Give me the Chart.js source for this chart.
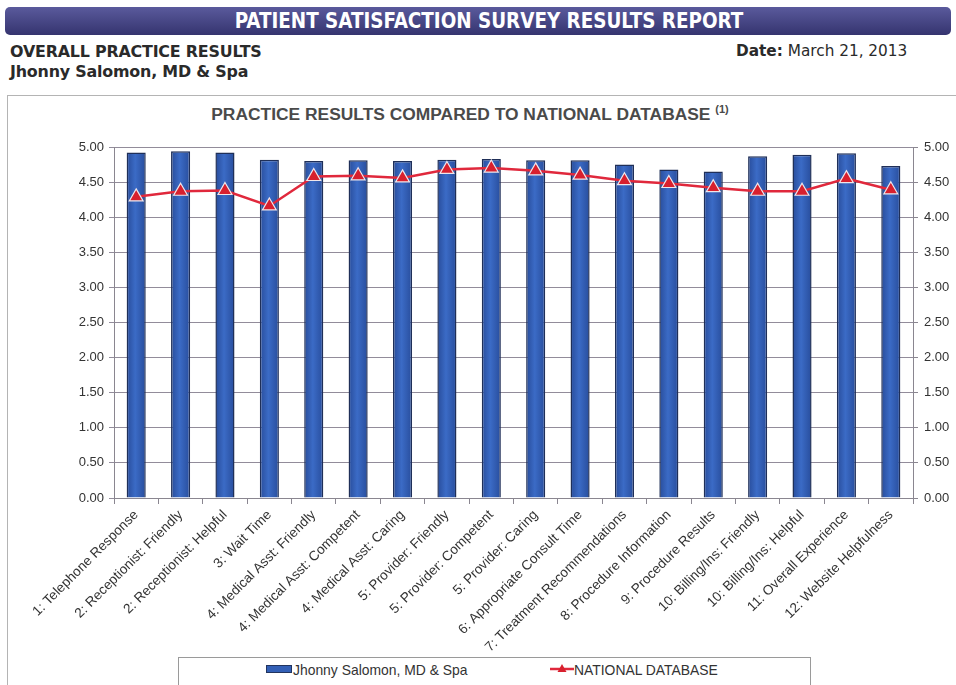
<!DOCTYPE html>
<html>
<head>
<meta charset="utf-8">
<script src="https://cdn.jsdelivr.net/npm/chart.js@4.4.0/dist/chart.umd.min.js"></script>
<style>
  body{margin:0;width:956px;height:685px;position:relative;overflow:hidden;background:#fff;
       font-family:"DejaVu Sans",sans-serif;color:#2a2a2a;}
  .banner{position:absolute;left:5px;top:7px;width:946px;height:28px;border-radius:5px;
          background:linear-gradient(#5a5a9c,#35346f);color:#fff;font-weight:bold;font-size:20.4px;
          line-height:28px;text-align:center;box-sizing:border-box;padding-left:22px;
          font-family:"DejaVu Sans Condensed","DejaVu Sans",sans-serif;}
  .sub{position:absolute;left:10px;font-weight:bold;font-size:15.9px;letter-spacing:-0.2px;}
  .date{position:absolute;left:736px;top:42px;font-size:15.3px;}
  .date b{font-weight:bold;}
  .box{position:absolute;left:7px;top:95px;width:970px;height:620px;border:1px solid #b4b4b4;}
  .title{position:absolute;left:0;top:103px;width:940px;text-align:center;
         font-family:"Liberation Sans",Arial,sans-serif;font-weight:bold;font-size:17.4px;color:#4a4a4a;}
  .title sup{font-size:11px;vertical-align:7px;}
  #wrap{position:absolute;left:8px;top:128px;width:948px;height:524px;}
  .legend{position:absolute;left:178px;top:657px;width:631px;height:30px;border:1px solid #9a9a9a;
          font-family:"Liberation Sans",Arial,sans-serif;font-size:13.9px;color:#333;}
  .legend span{position:absolute;top:4px;}
  .sw-bar{position:absolute;left:87px;top:7px;width:24px;height:6px;background:#3360b6;border:1px solid #22345e;}
  .sw-line{position:absolute;left:371px;top:3px;}
</style>
</head>
<body>
<div class="banner">PATIENT SATISFACTION SURVEY RESULTS REPORT</div>
<div class="sub" style="top:42px">OVERALL PRACTICE RESULTS</div>
<div class="sub" style="top:62px">Jhonny Salomon, MD &amp; Spa</div>
<div class="date"><b>Date:</b> March 21, 2013</div>
<div class="box"></div>
<div class="title">PRACTICE RESULTS COMPARED TO NATIONAL DATABASE <sup>(1)</sup></div>
<div id="wrap"><canvas id="chart" width="948" height="524"></canvas></div>
<div class="legend">
  <div class="sw-bar"></div>
  <span style="left:114px">Jhonny Salomon, MD &amp; Spa</span>
  <svg class="sw-line" width="24" height="14"><line x1="0" y1="8" x2="24" y2="8" stroke="#e0283c" stroke-width="2.5"/><polygon points="12,3 16.5,11 7.5,11" fill="#d8202e"/></svg>
  <span style="left:395px">NATIONAL DATABASE</span>
</div>
<script>
// survey questions along the x axis
const categories = [
  '1: Telephone Response',
  '2: Receptionist: Friendly',
  '2: Receptionist: Helpful',
  '3: Wait Time',
  '4: Medical Asst: Friendly',
  '4: Medical Asst: Competent',
  '4: Medical Asst: Caring',
  '5: Provider: Friendly',
  '5: Provider: Competent',
  '5: Provider: Caring',
  '6: Appropriate Consult Time',
  '7: Treatment Recommendations',
  '8: Procedure Information',
  '9: Procedure Results',
  '10: Billing/Ins: Friendly',
  '10: Billing/Ins: Helpful',
  '11: Overall Experience',
  '12: Website Helpfulness'
];
const practiceScores = [4.92, 4.94, 4.92, 4.82, 4.80, 4.81, 4.80, 4.82, 4.83, 4.81, 4.81, 4.75, 4.68, 4.65, 4.87, 4.89, 4.91, 4.73];
const nationalScores = [4.29, 4.37, 4.38, 4.16, 4.58, 4.59, 4.56, 4.68, 4.70, 4.66, 4.60, 4.52, 4.48, 4.42, 4.37, 4.37, 4.55, 4.39];
const yTickValues = [0, 0.5, 1, 1.5, 2, 2.5, 3, 3.5, 4, 4.5, 5];

const BAR_PCT = 0.43;
const labelFont = { family: '"Liberation Sans", Arial, sans-serif', size: 13 };
const xLabelFont = { family: '"Liberation Sans", Arial, sans-serif', size: 13.6 };

// soft horizontal shading across each bar
function barFill(ctx){
  const chart = ctx.chart, xs = chart.scales.x;
  if (!xs || ctx.dataIndex == null) return '#3360b6';
  const cx = xs.getPixelForValue(ctx.dataIndex);
  const half = xs.width / categories.length * BAR_PCT / 2;
  if (!isFinite(cx) || !isFinite(half) || half <= 0) return '#3360b6';
  const g = chart.ctx.createLinearGradient(cx - half, 0, cx + half, 0);
  g.addColorStop(0, '#284c9a');
  g.addColorStop(0.45, '#3b6bc6');
  g.addColorStop(1, '#284d9c');
  return g;
}

function fixedTicks(scale){
  scale.ticks = yTickValues.map(v => ({ value: v }));
}

new Chart(document.getElementById('chart').getContext('2d'), {
  data: {
    labels: categories,
    datasets: [
      {
        type: 'line',
        label: 'NATIONAL DATABASE',
        data: nationalScores,
        borderColor: '#e0283c',
        borderWidth: 2.5,
        pointStyle: 'triangle',
        pointRadius: 8,
        pointBackgroundColor: '#d8202e',
        pointBorderColor: '#efe6ea',
        pointBorderWidth: 1.2,
        tension: 0,
        order: 0,
        yAxisID: 'y'
      },
      {
        type: 'bar',
        label: 'Jhonny Salomon, MD & Spa',
        data: practiceScores,
        backgroundColor: barFill,
        borderColor: '#1f2f58',
        borderWidth: 1.5,
        barPercentage: BAR_PCT,
        categoryPercentage: 1,
        order: 1,
        yAxisID: 'y'
      }
    ]
  },
  options: {
    responsive: false,
    animation: false,
    layout: { padding: { top: 19, left: 0, right: 0, bottom: 0 } },
    plugins: { legend: { display: false }, tooltip: { enabled: false } },
    scales: {
      x: {
        offset: true,
        grid: { display: true, offset: true, drawOnChartArea: false, drawTicks: true, tickLength: 6, color: '#8a8690' },
        border: { display: true, color: '#8a8690' },
        ticks: { color: '#333', font: xLabelFont, minRotation: 45, maxRotation: 45, autoSkip: false, padding: 3 },
        afterFit(s){ s.height = 154; }
      },
      y: {
        position: 'left',
        min: 0, max: 5,
        afterBuildTicks: fixedTicks,
        grid: { color: '#928c9a', tickLength: 5 },
        border: { display: true, color: '#8a8690' },
        ticks: { color: '#333', font: labelFont, padding: 5, callback: v => Number(v).toFixed(2) },
        afterFit(s){ s.width = 106; }
      },
      y2: {
        position: 'right',
        min: 0, max: 5,
        afterBuildTicks: fixedTicks,
        grid: { drawOnChartArea: false, color: '#8a8690', tickLength: 5 },
        border: { display: true, color: '#8a8690' },
        ticks: { color: '#333', font: labelFont, padding: 6, callback: v => Number(v).toFixed(2) },
        afterFit(s){ s.width = 43; }
      }
    }
  }
});
</script>
</body>
</html>
